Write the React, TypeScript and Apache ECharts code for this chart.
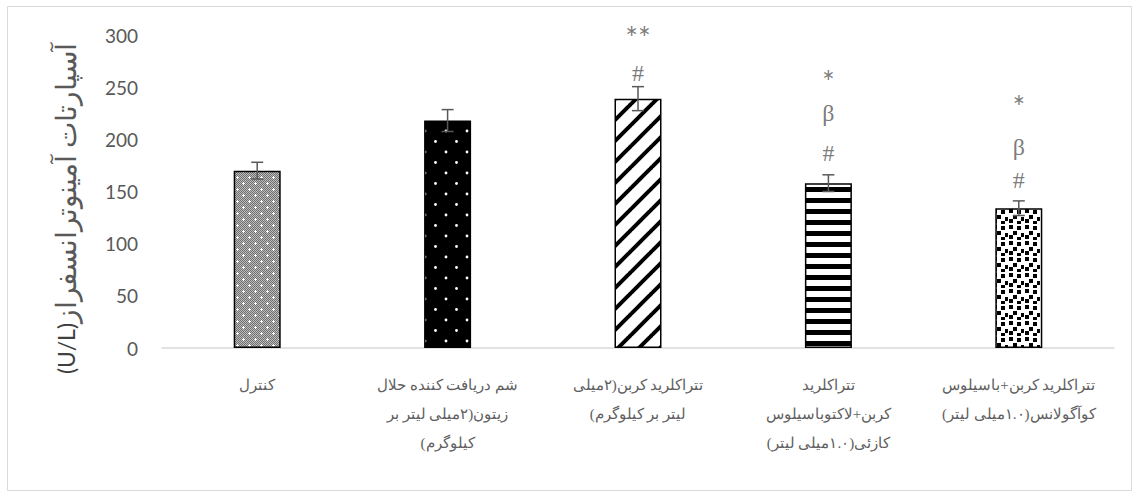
import React, { useEffect, useRef } from 'react';
import * as echarts from 'echarts';

const categories: string[] = [
  'کنترل',
  'شم دریافت کننده حلال\nزیتون(۲میلی لیتر بر\nکیلوگرم)',
  'تتراکلرید کربن(۲میلی\nلیتر بر کیلوگرم)',
  'تتراکلرید\nکربن+لاکتوباسیلوس\nکازئی(۱.۰میلی لیتر)',
  'تتراکلرید کربن+باسیلوس\nکوآگولانس(۱.۰میلی لیتر)',
];
const values: number[] = [170, 218, 239, 158, 134];
const errors: number[] = [8, 10.5, 11.5, 8, 7];
const yMin = 0;
const yMax = 300;
const yInterval = 50;
const annoCategory: number[] = [2, 2, 3, 3, 3, 4, 4, 4];
const annoText: string[] = ['**', '#', '*', 'β', '#', '*', 'β', '#'];
const annoValue: number[] = [305, 264, 263, 225, 187, 239, 193, 161];
const yAxisTitle = 'آسپارتات آمینوترانسفراز';
const yAxisUnit = '(U/L)';

const rtl = (s: string) =>
  s
    .split('\n')
    .map((l) => '\u202B' + l + '\u202C')
    .join('\n');

function makeCanvas(w: number, h: number, draw: (ctx: CanvasRenderingContext2D) => void) {
  const c = document.createElement('canvas');
  c.width = w;
  c.height = h;
  const ctx = c.getContext('2d')!;
  draw(ctx);
  return c;
}

function makePatterns() {
  const p1 = makeCanvas(12, 12, (ctx) => {
    for (let i = 0; i < 12; i++) {
      for (let j = 0; j < 12; j++) {
        ctx.fillStyle = (i + j) % 2 === 0 ? '#707070' : '#bcbcbc';
        ctx.fillRect(i, j, 1, 1);
      }
    }
    ctx.fillStyle = '#ffffff';
    ctx.fillRect(2, 3, 3, 1);
    ctx.fillRect(3, 2, 1, 3);
    ctx.fillRect(8, 9, 3, 1);
    ctx.fillRect(9, 8, 1, 3);
  });
  const p2 = makeCanvas(21, 21, (ctx) => {
    ctx.fillStyle = '#000';
    ctx.fillRect(0, 0, 21, 21);
    ctx.fillStyle = '#ffffff';
    ctx.beginPath();
    ctx.arc(5, 5, 1.4, 0, Math.PI * 2);
    ctx.fill();
    ctx.beginPath();
    ctx.arc(15.5, 15.5, 1.4, 0, Math.PI * 2);
    ctx.fill();
  });
  const p3 = makeCanvas(21, 21, (ctx) => {
    ctx.fillStyle = '#fff';
    ctx.fillRect(0, 0, 21, 21);
    ctx.strokeStyle = '#000';
    ctx.lineWidth = 4;
    for (const k of [0, 21, 42]) {
      ctx.beginPath();
      ctx.moveTo(k - 22, 22);
      ctx.lineTo(k + 1, -1);
      ctx.stroke();
    }
  });
  const p4 = makeCanvas(4, 11, (ctx) => {
    ctx.fillStyle = '#fff';
    ctx.fillRect(0, 0, 4, 11);
    ctx.fillStyle = '#000';
    ctx.fillRect(0, 0, 4, 5);
  });
  const p5 = makeCanvas(16, 16, (ctx) => {
    ctx.fillStyle = '#fff';
    ctx.fillRect(0, 0, 16, 16);
    ctx.fillStyle = '#000';
    const sq = [
      [1, 1], [9, 2], [5, 7], [13, 9], [1, 11], [9, 13],
    ];
    for (const [x, y] of sq) ctx.fillRect(x, y, 4, 4);
  });
  return [p1, p2, p3, p4, p5];
}

export default function App() {
  const ref = useRef<HTMLDivElement>(null);
  useEffect(() => {
    if (!ref.current) return;
    const chart = echarts.init(ref.current, undefined, { renderer: 'svg' });
    const patterns = makePatterns();
    const grey = '#595959';
    chart.setOption({
      animation: false,
      backgroundColor: '#ffffff',
      graphic: [
        {
          type: 'rect',
          shape: { x: 7.5, y: 6.5, width: 1124, height: 484 },
          style: { fill: 'none', stroke: '#d9d9d9', lineWidth: 1 },
          silent: true,
        },
      ],
      grid: { left: 162, right: 25, top: 35, bottom: 149 },
      xAxis: {
        type: 'category',
        data: categories,
        axisLine: { lineStyle: { color: '#d9d9d9', width: 1.5 } },
        axisTick: { show: false },
        axisLabel: {
          interval: 0,
          color: '#606060',
          fontSize: 15,
          lineHeight: 29,
          margin: 22,
          fontFamily: 'serif',
          formatter: (v: string) => rtl(v),
        },
      },
      yAxis: {
        type: 'value',
        min: yMin,
        max: yMax,
        interval: yInterval,
        axisLine: { show: false },
        axisTick: { show: false },
        splitLine: { show: false },
        axisLabel: { color: grey, fontSize: 19, margin: 24, fontFamily: 'Lato, sans-serif' },
        name: '{b|' + yAxisUnit + '}{a|' + yAxisTitle + '}',
        nameLocation: 'middle',
        nameRotate: 90,
        nameGap: 82,
        nameTextStyle: {
          padding: [0, 34, 0, 0],
          rich: {
            a: { fontSize: 28, color: grey, fontFamily: 'serif' },
            b: { fontSize: 23, color: '#404040', fontFamily: 'Lato, sans-serif' },
          },
        },
      },
      series: [
        {
          type: 'bar',
          barWidth: 47,
          data: values.map((v, i) => ({
            value: v,
            itemStyle: {
              color: { image: patterns[i], repeat: 'repeat' },
              borderColor: '#000',
              borderWidth: 1.5,
            },
          })),
        },
        {
          type: 'custom',
          z: 5,
          data: values.map((v, i) => [i, v, errors[i]]),
          renderItem: (params: any, api: any) => {
            const x = api.value(0);
            const v = api.value(1);
            const e = api.value(2);
            const top = api.coord([x, v + e]);
            const bot = api.coord([x, v - e]);
            const hw = 6;
            const style = { stroke: grey, lineWidth: 1.5 };
            return {
              type: 'group',
              children: [
                { type: 'line', shape: { x1: top[0], y1: top[1], x2: bot[0], y2: bot[1] }, style },
                { type: 'line', shape: { x1: top[0] - hw, y1: top[1], x2: top[0] + hw, y2: top[1] }, style },
                { type: 'line', shape: { x1: bot[0] - hw, y1: bot[1], x2: bot[0] + hw, y2: bot[1] }, style },
              ],
            };
          },
        },
        {
          type: 'scatter',
          clip: false,
          symbolSize: 1,
          itemStyle: { color: 'rgba(0,0,0,0)' },
          z: 6,
          data: annoText.map((t, i) => {
            const star = t.indexOf('*') >= 0;
            return {
              value: [annoCategory[i], annoValue[i]],
              label: {
                show: true,
                position: 'inside',
                formatter: t,
                color: grey,
                fontSize: star ? 30 : 24,
                fontFamily: star ? 'Lato, sans-serif' : 'serif',
                offset: star ? [0, 7] : [0, 0],
              },
            };
          }),
        },
      ],
    });
    return () => chart.dispose();
  }, []);
  return (
    <div
      ref={ref}
      style={{ position: 'fixed', left: 0, top: 0, width: 1139, height: 497 }}
    />
  );
}
